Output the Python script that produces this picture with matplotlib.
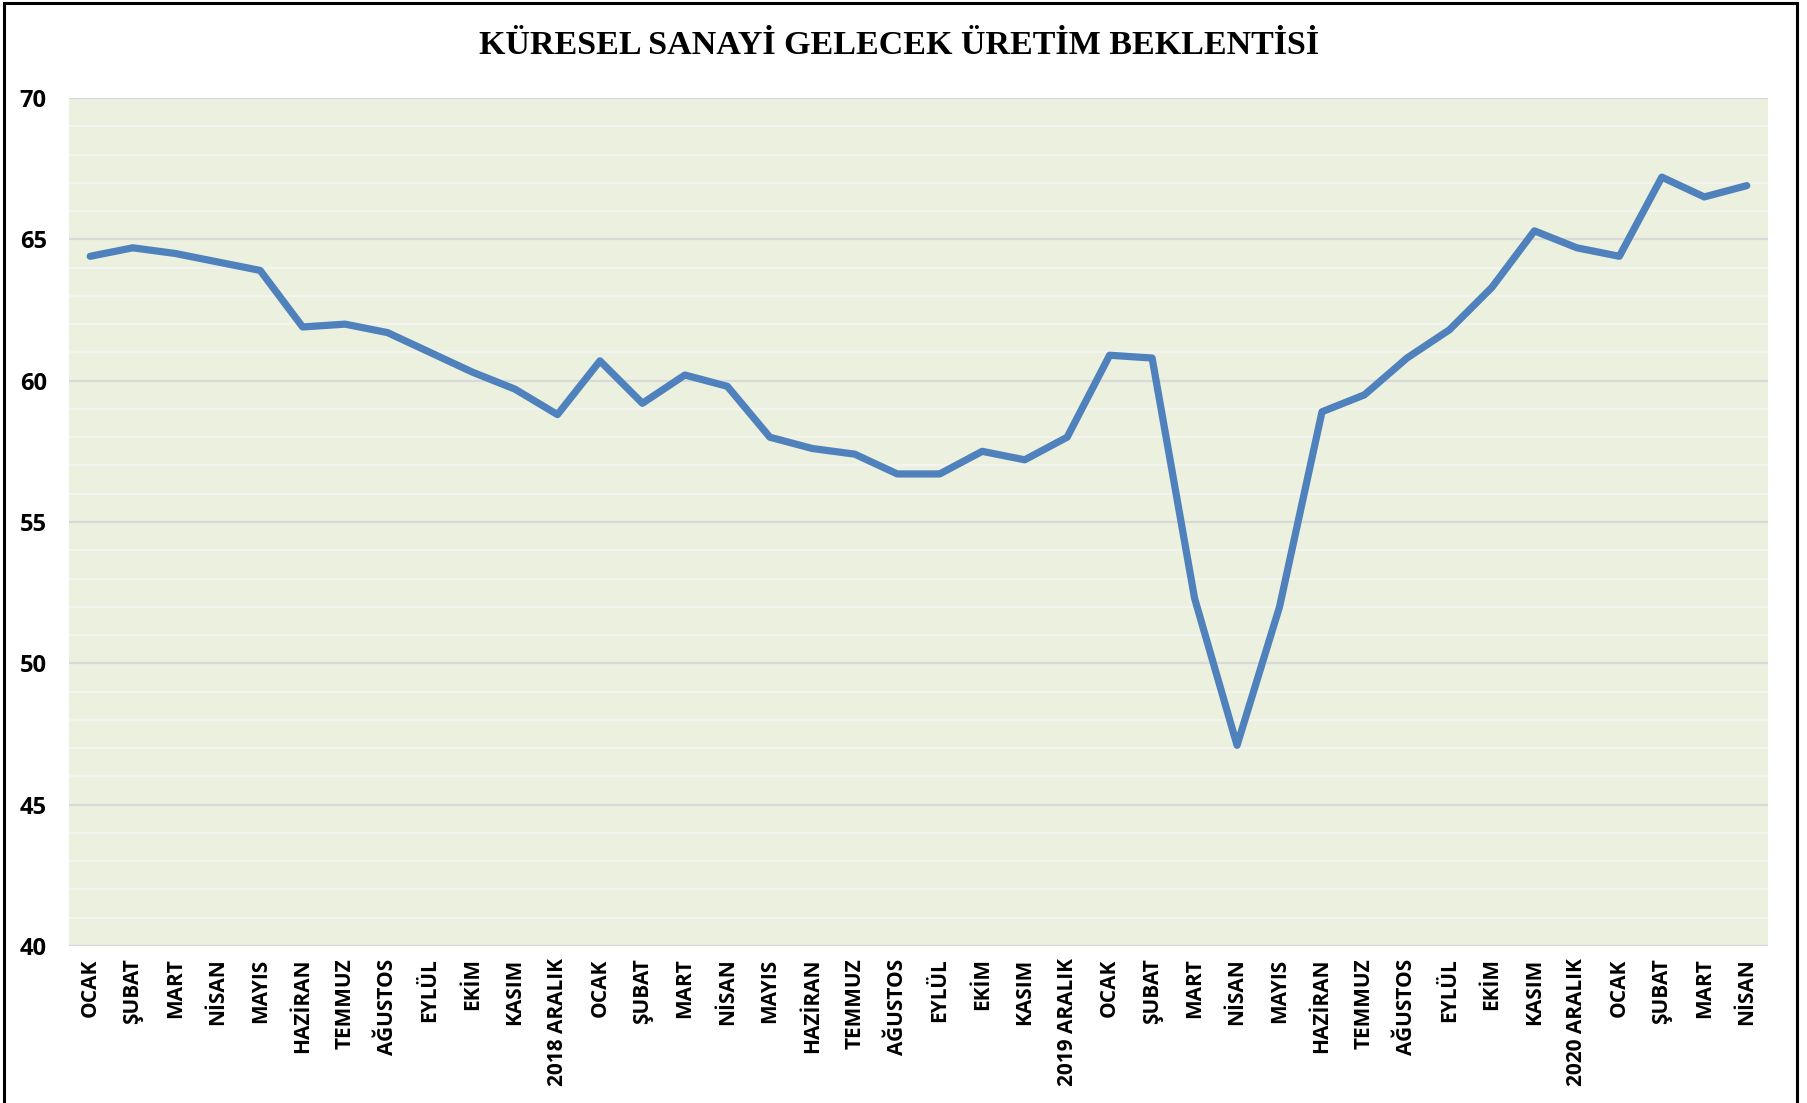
import numpy as np
import matplotlib.pyplot as plt
from matplotlib.patches import Rectangle
from matplotlib.ticker import MultipleLocator

# aylar (x ekseni etiketleri)
months = ["OCAK", "ŞUBAT", "MART", "NİSAN", "MAYIS", "HAZİRAN", "TEMMUZ",
          "AĞUSTOS", "EYLÜL", "EKİM", "KASIM", "2018 ARALIK",
          "OCAK", "ŞUBAT", "MART", "NİSAN", "MAYIS", "HAZİRAN", "TEMMUZ",
          "AĞUSTOS", "EYLÜL", "EKİM", "KASIM", "2019 ARALIK",
          "OCAK", "ŞUBAT", "MART", "NİSAN", "MAYIS", "HAZİRAN", "TEMMUZ",
          "AĞUSTOS", "EYLÜL", "EKİM", "KASIM", "2020 ARALIK",
          "OCAK", "ŞUBAT", "MART", "NİSAN"]

# gelecek uretim beklentisi endeksi
values = [64.4, 64.7, 64.5, 64.2, 63.9, 61.9, 62.0, 61.7, 61.0, 60.3, 59.7, 58.8,
          60.7, 59.2, 60.2, 59.8, 58.0, 57.6, 57.4, 56.7, 56.7, 57.5, 57.2, 58.0,
          60.9, 60.8, 52.3, 47.1, 52.0, 58.9, 59.5, 60.8, 61.8, 63.3, 65.3, 64.7,
          64.4, 67.2, 66.5, 66.9]

title = "KÜRESEL SANAYİ GELECEK ÜRETİM BEKLENTİSİ"

W, H = 1808, 1103
fig = plt.figure(figsize=(W / 100, H / 100), dpi=100)
ax = fig.add_axes([69 / W, 1 - 946 / H, (1768 - 69) / W, (946 - 98) / H])

x = np.arange(len(values))
ax.set_facecolor("#EBF0DF")
ax.plot(x, values, color="#4F81BD", lw=5.2, solid_joinstyle="round",
        solid_capstyle="round", zorder=3)

ax.set_xlim(-0.5, len(values) - 0.5)
ax.set_ylim(40, 70)
ax.yaxis.set_major_locator(MultipleLocator(5))
ax.yaxis.set_minor_locator(MultipleLocator(1))
ax.grid(which="major", axis="y", color="#D9D9D9", lw=1.6, zorder=1)
ax.grid(which="minor", axis="y", color="#F3F4F0", lw=1.6, zorder=1)
ax.set_axisbelow(True)
for s in ax.spines.values():
    s.set_visible(False)

ax.set_xticks(x)
ax.set_xticklabels(months, rotation=90, ha="center", va="top",
                   fontsize=15, fontweight="bold", family="Open Sans")
ax.tick_params(axis="x", length=0, pad=9)
ax.tick_params(axis="y", which="both", length=0, pad=16)
for lab in ax.get_yticklabels():
    lab.set_fontsize(17)
    lab.set_fontweight("bold")
    lab.set_family("Open Sans")

fig.text(0.4975, 1 - 46 / H, title, ha="center", va="center",
         fontsize=24.5, fontweight="bold", family="Liberation Serif")

# cerceve
fig.patches.append(Rectangle((4 / W, -0.05), (1797 - 4) / W, 1.05 - 3 / H,
                             transform=fig.transFigure, fill=False,
                             edgecolor="black", lw=2.2, clip_on=False))

fig.savefig("out.png", dpi=100, facecolor="white")
